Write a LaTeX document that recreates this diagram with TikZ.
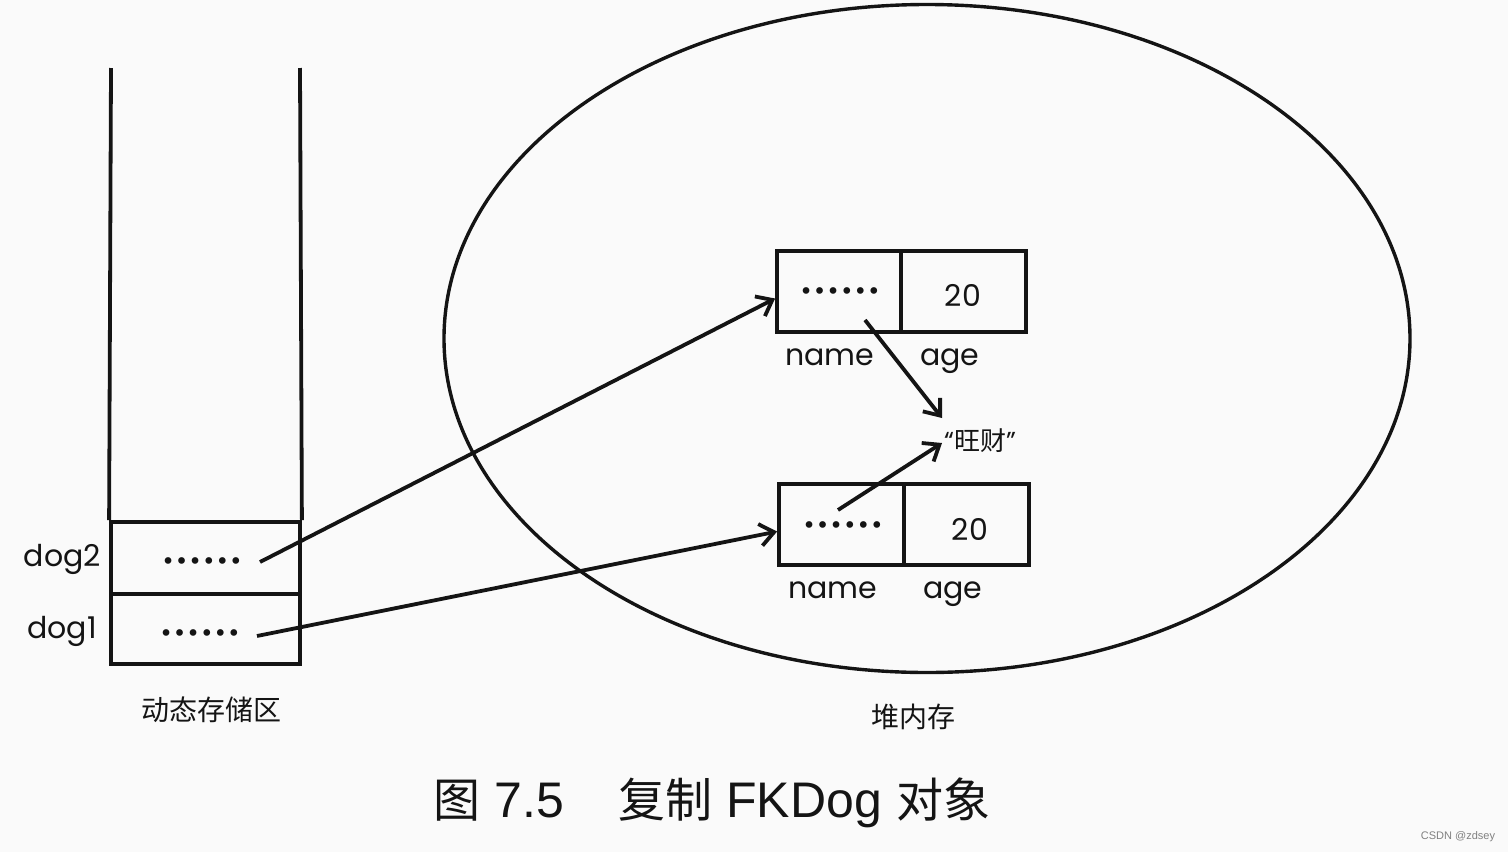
\documentclass[tikz,border=0pt]{standalone}
\usepackage{fontspec}
\setmainfont{Poppins}
\newfontfamily\cjk{Noto Sans CJK SC}
\newfontfamily\capfont{Liberation Sans}
\newfontfamily\djv{DejaVu Sans}
\usetikzlibrary{shapes.geometric,arrows.meta}
\definecolor{bgc}{RGB}{250,250,250}
\definecolor{inkc}{RGB}{20,20,20}
\newcommand\dotrow{{\djv\fontsize{23}{23}\selectfont ••••••}}
\tikzset{
  line/.style={draw=inkc,line width=3.8pt},
  cell/.style={line,rectangle,inner sep=0pt},
  ptr/.style={draw=inkc,line width=3.8pt,-{Straight Barb[length=14pt,width=22pt,line width=3.8pt]}},
  lbl/.style={inner sep=0pt,text=inkc,font=\fontsize{30}{32}\selectfont},
  cjklbl/.style={inner sep=0pt,text=inkc,font=\cjk\fontsize{28}{30}\selectfont},
  dotsn/.style={inner sep=0pt,text=inkc},
}
\begin{document}
\begin{tikzpicture}[x=1pt,y=-1pt]
\path[fill=bgc,use as bounding box] (0,0) rectangle (1508,852);
% stack
\coordinate (stl) at (111,68);
\coordinate (str) at (300,68);
\node[cell,minimum width=189pt,minimum height=72pt] (c2) at (205.5,558) {};
\node[cell,minimum width=189pt,minimum height=70pt] (c1) at (205.5,629) {};
\draw[line] (stl) -- (c2.north west);
\draw[line] (str) -- (c2.north east);
\node[lbl,anchor=base east] (l2) at (101,566) {dog2};
\node[lbl,anchor=base east] (l1) at (97,638) {dog1};
\node[dotsn] (d2) at (202,564) {\dotrow};
\node[dotsn] (d1) at (200,636) {\dotrow};
\node[cjklbl] (stk) at (211,710) {动态存储区};
% heap
\node[line,line width=3.4pt,ellipse,minimum width=966pt,minimum height=668pt,inner sep=0pt] (heap) at (927,338.5) {};
\node[cjklbl] (hl) at (913,717) {堆内存};
% object 1
\node[cell,minimum width=124pt,minimum height=81pt] (n1) at (839,291.5) {};
\node[cell,minimum width=125pt,minimum height=81pt] (a1) at (963.5,291.5) {};
\node[dotsn] (nd1) at (840,294) {\dotrow};
\node[lbl,anchor=base] (v1) at (963,306) {20};
\node[lbl,anchor=base] (nl1) at (830,365) {name};
\node[lbl,anchor=base] (al1) at (950,365) {age};
% object 2
\node[cell,minimum width=125pt,minimum height=81pt] (n2) at (841.5,524.5) {};
\node[cell,minimum width=125pt,minimum height=81pt] (a2) at (966.5,524.5) {};
\node[dotsn] (nd2) at (843,528) {\dotrow};
\node[lbl,anchor=base] (v2) at (970,540) {20};
\node[lbl,anchor=base] (nl2) at (833,598) {name};
\node[lbl,anchor=base] (al2) at (953,598) {age};
% string
\node[inner sep=0pt,text=inkc,font=\fontsize{26}{28}\selectfont] (s) at (980,441) {``{\cjk 旺财}''};
% pointers
\coordinate (p2) at (260,562);
\coordinate (p1) at (257,636);
\coordinate (q1) at (865,320);
\coordinate (q2) at (838,510);
\draw[ptr] (p2) -- ([yshift=-7pt]n1.west);
\draw[ptr] (p1) -- ([yshift=-7pt]n2.west);
\draw[ptr] (q1) -- (942,418) coordinate (s1);
\draw[ptr] (q2) -- (942,443) coordinate (s2);
% caption
\node[inner sep=0pt,text=inkc,font=\fontsize{47}{50}\selectfont] (cap) at (712,803)
  {{\cjk 图}\hspace{14pt}{\capfont\fontsize{50}{52}\selectfont 7.5}\hspace{54pt}{\cjk 复制}\hspace{14pt}{\capfont\fontsize{50}{52}\selectfont FKDog}\hspace{14pt}{\cjk 对象}};
\node[inner sep=0pt,text=gray,font=\capfont\fontsize{11}{12}\selectfont] (wm) at (1458,837) {CSDN @zdsey};
\end{tikzpicture}
\end{document}
